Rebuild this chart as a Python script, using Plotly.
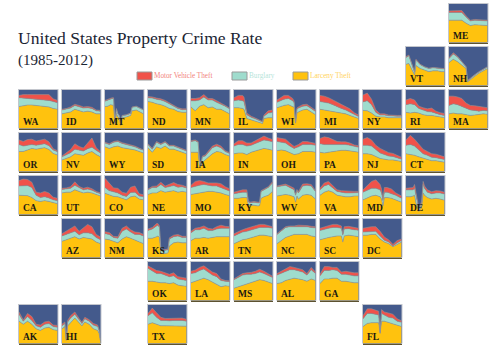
import plotly.graph_objects as go

YEARS = [1985, 1988, 1991, 1994, 1997, 2000, 2003, 2006, 2009, 2012]

CUSTOM_YEARS = {
    "MT": [1985, 1987, 1989, 1990, 1991, 1992, 1993, 1994, 1995, 1996, 1997, 2000, 2003, 2004, 2007, 2012],
    "KS": [1985, 1988, 1991, 1992, 1993, 1994, 1996, 1998, 1999, 2000, 2003, 2006, 2009, 2012],
    "IA": [1985, 1988, 1990, 1991, 1992, 1993, 1995, 1997, 2000, 2003, 2006, 2009, 2012],
    "WI": [1985, 1988, 1990, 1993, 1996, 1997, 1998, 1999, 2000, 2003, 2006, 2009, 2012],
    "IL": [1985, 1988, 1991, 1992, 1994, 1997, 2000, 2003, 2005, 2006, 2009, 2012],
    "VT": [1985, 1987, 1989, 1991, 1992, 1995, 1998, 2001, 2004, 2007, 2010, 2012],
    "NH": [1985, 1988, 1991, 1994, 1997, 1998, 2000, 2003, 2006, 2009, 2012],
    "SC": [1985, 1988, 1991, 1994, 1997, 2000, 2001, 2002, 2005, 2009, 2012],
    "HI": [1985, 1987, 1988, 1989, 1991, 1994, 1997, 1999, 2001, 2004, 2007, 2010, 2011, 2012],
    "FL": [1985, 1988, 1991, 1994, 1996, 1997, 1998, 2000, 2003, 2006, 2009, 2012],
    "DE": [1985, 1988, 1990, 1991, 1992, 1994, 1996, 1997, 1998, 2000, 2003, 2006, 2009, 2012],
    "MD": [1985, 1988, 1991, 1994, 1997, 1998, 1999, 2000, 2002, 2005, 2008, 2012],
    "WV": [1985, 1988, 1991, 1994, 1997, 1998, 1999, 2000, 2003, 2006, 2009, 2012],
    "KY": [1985, 1988, 1991, 1994, 1995, 1996, 1999, 2002, 2003, 2004, 2006, 2009, 2012],
}

LARCENY = {
    "ME": [58, 58, 58, 58, 50, 44, 46, 45, 44, 44],
    "VT": [55, 57, 42, 28, 52, 44, 40, 36, 38, 38, 36, 36],
    "NH": [60, 68, 62, 52, 44, 9, 16, 24, 32, 38, 44],
    "WA": [57, 59, 61, 61, 60, 58, 58, 56, 52, 50],
    "ID": [38, 40, 43, 50, 47, 43, 45, 43, 38, 38],
    "MT": [57, 58, 62, 60, 60, 12, 40, 30, 28, 8, 28, 30, 34, 46, 48, 38],
    "ND": [70, 68, 64, 62, 58, 52, 50, 44, 42, 42],
    "MN": [56, 46, 58, 62, 54, 56, 50, 50, 44, 38],
    "IL": [54, 54, 52, 50, 26, 22, 19, 15, 13, 26, 28, 28],
    "WI": [54, 58, 60, 62, 58, 55, 14, 40, 43, 48, 50, 44, 36],
    "MI": [50, 48, 46, 44, 42, 40, 38, 34, 30, 26],
    "NY": [47, 46, 40, 32, 30, 30, 28, 28, 28, 28],
    "RI": [42, 40, 42, 40, 36, 34, 34, 32, 30, 28],
    "MA": [38, 40, 38, 38, 36, 34, 35, 36, 38, 37],
    "OR": [52, 52, 56, 60, 58, 60, 62, 57, 47, 43],
    "NV": [30, 34, 38, 46, 44, 42, 48, 52, 44, 38],
    "WY": [64, 60, 64, 66, 62, 60, 58, 56, 52, 48],
    "SD": [62, 50, 64, 60, 66, 58, 58, 54, 50, 46],
    "IA": [50, 50, 50, 14, 14, 24, 30, 38, 46, 52, 50, 44, 40],
    "IN": [46, 48, 48, 44, 50, 54, 58, 60, 58, 55],
    "OH": [54, 56, 54, 50, 44, 46, 52, 52, 52, 50],
    "PA": [50, 48, 50, 52, 54, 55, 55, 54, 52, 50],
    "NJ": [46, 46, 44, 38, 34, 32, 30, 30, 28, 26],
    "CT": [46, 44, 42, 38, 34, 32, 28, 28, 26, 24],
    "CA": [50, 50, 49, 44, 36, 34, 36, 34, 30, 28],
    "UT": [56, 58, 58, 64, 60, 56, 58, 56, 52, 48],
    "CO": [55, 50, 47, 46, 42, 38, 46, 48, 40, 38],
    "NE": [52, 56, 56, 62, 58, 60, 62, 58, 60, 58],
    "MO": [52, 54, 56, 58, 60, 60, 58, 56, 52, 49],
    "KY": [42, 42, 44, 44, 26, 24, 24, 22, 24, 42, 46, 50, 60],
    "WV": [48, 50, 52, 50, 46, 32, 48, 40, 50, 52, 50, 40],
    "VA": [50, 58, 62, 58, 50, 48, 46, 46, 48, 48],
    "MD": [38, 44, 48, 50, 46, 40, 22, 44, 44, 42, 38, 32],
    "DE": [46, 46, 48, 50, 30, 8, 20, 56, 50, 44, 40, 42, 40, 37],
    "AZ": [42, 46, 50, 54, 48, 52, 50, 48, 40, 36],
    "NM": [48, 46, 42, 38, 48, 54, 50, 46, 42, 36],
    "KS": [50, 50, 54, 56, 52, 12, 10, 12, 12, 30, 38, 40, 38, 38],
    "AR": [44, 50, 50, 52, 50, 52, 54, 54, 54, 54],
    "TN": [36, 42, 46, 48, 52, 56, 58, 58, 56, 54],
    "NC": [36, 44, 52, 56, 60, 60, 60, 60, 56, 54],
    "SC": [46, 50, 52, 54, 56, 56, 40, 56, 58, 56, 54],
    "DC": [58, 58, 60, 60, 48, 40, 36, 28, 34, 40],
    "OK": [50, 50, 48, 46, 46, 44, 46, 40, 38, 37],
    "LA": [46, 50, 54, 58, 54, 48, 44, 36, 38, 37],
    "MS": [32, 36, 40, 44, 46, 50, 54, 52, 48, 44],
    "AL": [44, 46, 52, 56, 58, 56, 54, 50, 56, 52],
    "GA": [44, 56, 56, 58, 58, 50, 50, 48, 46, 46],
    "AK": [58, 50, 58, 50, 38, 34, 40, 42, 36, 34],
    "HI": [38, 44, 8, 46, 54, 66, 54, 46, 56, 50, 38, 34, 26, 6],
    "TX": [50, 54, 50, 46, 46, 46, 46, 46, 46, 45],
    "FL": [44, 52, 54, 54, 54, 26, 58, 58, 54, 52, 46, 44],
}

BURGLARY = {
    "ME": [20, 20, 20, 20, 16, 12, 12, 12, 12, 12],
    "VT": [18, 20, 14, 6, 14, 10, 8, 8, 8, 7, 7, 7],
    "NH": [10, 14, 12, 8, 4, 3, 3, 3, 3, 3, 4],
    "WA": [23, 20, 18, 17, 17, 17, 17, 17, 18, 17],
    "ID": [10, 10, 10, 10, 10, 10, 9, 9, 8, 7],
    "MT": [14, 16, 16, 18, 18, 2, 10, 8, 5, 2, 5, 5, 5, 9, 9, 10],
    "ND": [10, 11, 12, 12, 12, 12, 8, 8, 7, 7],
    "MN": [16, 26, 16, 20, 20, 18, 18, 14, 14, 13],
    "IL": [18, 20, 20, 20, 10, 7, 6, 5, 4, 6, 12, 14],
    "WI": [14, 16, 16, 16, 14, 12, 2, 10, 10, 10, 9, 8, 8],
    "MI": [20, 20, 20, 18, 14, 12, 10, 9, 6, 5],
    "NY": [22, 26, 22, 10, 5, 5, 5, 4, 4, 4],
    "RI": [20, 24, 20, 12, 12, 10, 9, 7, 6, 6],
    "MA": [22, 24, 24, 20, 16, 14, 12, 9, 9, 9],
    "OR": [18, 14, 12, 10, 10, 10, 10, 10, 9, 8],
    "NV": [8, 10, 11, 12, 11, 11, 11, 11, 11, 10],
    "WY": [10, 10, 12, 12, 11, 10, 9, 8, 7, 7],
    "SD": [8, 8, 12, 10, 10, 8, 8, 7, 7, 7],
    "IA": [28, 30, 26, 14, 6, 14, 10, 12, 16, 14, 12, 8, 7],
    "IN": [20, 22, 22, 22, 18, 18, 20, 22, 22, 22],
    "OH": [24, 20, 20, 16, 16, 18, 18, 18, 18, 18],
    "PA": [22, 22, 20, 18, 16, 15, 15, 14, 13, 13],
    "NJ": [22, 22, 22, 18, 14, 12, 10, 9, 7, 6],
    "CT": [22, 26, 24, 18, 12, 10, 9, 8, 8, 7],
    "CA": [24, 24, 26, 26, 14, 10, 10, 9, 8, 8],
    "UT": [9, 8, 10, 12, 9, 8, 8, 7, 6, 6],
    "CO": [15, 12, 12, 10, 8, 9, 11, 10, 8, 8],
    "NE": [12, 14, 14, 16, 12, 12, 13, 13, 12, 11],
    "MO": [18, 20, 20, 20, 16, 14, 16, 14, 14, 12],
    "KY": [12, 14, 14, 14, 8, 6, 8, 8, 8, 18, 18, 20, 22],
    "WV": [24, 24, 24, 20, 18, 18, 14, 16, 24, 24, 24, 20],
    "VA": [14, 16, 16, 12, 10, 10, 10, 10, 9, 9],
    "MD": [20, 18, 20, 18, 18, 16, 14, 14, 14, 12, 12, 10],
    "DE": [18, 18, 16, 18, 18, 6, 10, 22, 18, 14, 14, 14, 16, 16],
    "AZ": [14, 14, 12, 14, 11, 12, 14, 14, 12, 10],
    "NM": [14, 14, 10, 12, 20, 20, 16, 14, 18, 20],
    "KS": [20, 24, 28, 28, 26, 8, 8, 8, 8, 18, 16, 16, 14, 14],
    "AR": [20, 22, 22, 24, 20, 18, 20, 22, 22, 22],
    "TN": [20, 20, 20, 20, 20, 18, 20, 20, 22, 22],
    "NC": [24, 26, 26, 24, 20, 20, 20, 20, 22, 23],
    "SC": [24, 24, 24, 24, 22, 20, 18, 18, 17, 16, 17],
    "DC": [8, 9, 8, 8, 8, 5, 4, 2, 4, 4],
    "OK": [34, 28, 22, 24, 20, 18, 18, 16, 16, 15],
    "LA": [24, 22, 24, 24, 20, 18, 18, 16, 12, 12],
    "MS": [22, 24, 26, 24, 22, 20, 20, 18, 18, 16],
    "AL": [22, 24, 24, 24, 22, 20, 20, 16, 24, 18],
    "GA": [20, 22, 22, 22, 20, 18, 18, 18, 18, 18],
    "AK": [18, 8, 12, 10, 8, 8, 10, 10, 8, 8],
    "HI": [8, 8, 2, 10, 12, 10, 8, 6, 8, 8, 10, 10, 8, 2],
    "TX": [22, 26, 18, 14, 14, 13, 14, 14, 14, 13],
    "FL": [20, 26, 24, 22, 20, 2, 20, 16, 14, 14, 12, 11],
}

MOTOR_THEFT = {
    "ME": [4, 4, 4, 5, 3, 2, 2, 2, 2, 2],
    "VT": [2, 2, 2, 1, 2, 1, 1, 1, 1, 1, 1, 1],
    "NH": [2, 3, 2, 1, 1, 1, 1, 1, 1, 1, 1],
    "WA": [6, 9, 9, 10, 12, 13, 14, 15, 7, 6],
    "ID": [2, 2, 3, 3, 3, 3, 3, 3, 2, 2],
    "MT": [2, 2, 2, 2, 2, 1, 2, 1, 1, 1, 1, 1, 1, 1, 1, 1],
    "ND": [3, 3, 3, 3, 3, 3, 2, 2, 2, 2],
    "MN": [6, 6, 6, 6, 4, 4, 4, 3, 2, 2],
    "IL": [8, 12, 14, 12, 4, 3, 2, 2, 1, 3, 6, 6],
    "WI": [6, 8, 10, 8, 6, 4, 1, 3, 3, 4, 4, 3, 3],
    "MI": [16, 16, 14, 12, 12, 12, 10, 8, 5, 4],
    "NY": [18, 20, 14, 6, 3, 3, 2, 2, 2, 2],
    "RI": [12, 14, 12, 6, 6, 7, 10, 6, 5, 5],
    "MA": [24, 20, 20, 20, 14, 12, 12, 12, 8, 8],
    "OR": [12, 12, 15, 14, 11, 12, 12, 10, 3, 3],
    "NV": [2, 4, 8, 14, 10, 8, 14, 24, 7, 3],
    "WY": [2, 2, 2, 2, 2, 2, 2, 2, 2, 1],
    "SD": [2, 2, 2, 2, 2, 2, 2, 2, 2, 2],
    "IA": [2, 2, 2, 1, 1, 2, 3, 3, 4, 5, 4, 2, 2],
    "IN": [6, 10, 10, 8, 6, 8, 10, 10, 7, 6],
    "OH": [10, 10, 10, 8, 5, 6, 8, 8, 5, 5],
    "PA": [14, 20, 18, 12, 8, 7, 7, 6, 4, 4],
    "NJ": [16, 20, 16, 12, 12, 10, 9, 8, 6, 5],
    "CT": [14, 24, 18, 16, 12, 10, 9, 9, 7, 7],
    "CA": [14, 18, 16, 14, 8, 12, 14, 13, 7, 6],
    "UT": [3, 3, 4, 9, 4, 4, 5, 4, 2, 2],
    "CO": [24, 18, 10, 12, 8, 8, 14, 16, 6, 5],
    "NE": [2, 3, 4, 6, 4, 6, 8, 7, 4, 3],
    "MO": [6, 12, 12, 8, 6, 8, 8, 10, 6, 6],
    "KY": [4, 5, 6, 6, 3, 2, 2, 2, 2, 2, 2, 2, 3],
    "WV": [2, 2, 3, 4, 4, 2, 3, 3, 5, 4, 4, 2],
    "VA": [4, 8, 8, 6, 4, 4, 5, 4, 3, 3],
    "MD": [6, 12, 18, 22, 14, 10, 4, 12, 12, 12, 6, 6],
    "DE": [4, 6, 6, 10, 6, 2, 4, 8, 6, 6, 5, 6, 5, 5],
    "AZ": [6, 8, 12, 14, 9, 14, 22, 18, 8, 7],
    "NM": [5, 5, 3, 4, 8, 8, 6, 6, 5, 4],
    "KS": [4, 4, 6, 4, 4, 2, 2, 2, 2, 3, 4, 4, 3, 3],
    "AR": [4, 4, 6, 6, 6, 4, 6, 8, 5, 4],
    "TN": [6, 6, 6, 8, 8, 8, 8, 8, 4, 4],
    "NC": [2, 2, 2, 2, 2, 4, 4, 3, 3, 3],
    "SC": [6, 6, 8, 8, 8, 6, 4, 6, 6, 5, 5],
    "DC": [10, 12, 12, 12, 12, 8, 6, 4, 6, 4],
    "OK": [6, 6, 8, 6, 6, 6, 8, 6, 6, 6],
    "LA": [6, 7, 8, 8, 8, 8, 8, 4, 2, 2],
    "MS": [2, 3, 4, 4, 5, 6, 7, 6, 4, 3],
    "AL": [4, 6, 8, 8, 6, 6, 6, 4, 6, 4],
    "GA": [4, 10, 10, 6, 8, 6, 8, 8, 8, 8],
    "AK": [6, 3, 8, 10, 4, 6, 6, 6, 4, 5],
    "HI": [4, 4, 1, 4, 6, 6, 3, 3, 4, 4, 4, 4, 2, 1],
    "TX": [6, 12, 12, 8, 5, 6, 6, 6, 6, 5],
    "FL": [8, 12, 12, 10, 10, 1, 10, 8, 10, 10, 6, 4],
}

TITLE = "United States Property Crime Rate"
SUBTITLE = "(1985-2012)"
LEGEND_NAMES = ["Motor Vehicle Theft", "Burglary", "Larceny Theft"]

# Layout of the tile map: rows of states, "." marks an empty column.
GRID = [
    ". . . . . . . . . . ME",
    ". . . . . . . . . VT NH",
    "WA ID MT ND MN IL WI MI NY RI MA",
    "OR NV WY SD IA IN OH PA NJ CT .",
    "CA UT CO NE MO KY WV VA MD DE .",
    ". AZ NM KS AR TN NC SC DC . .",
    ". . . OK LA MS AL GA . . .",
    "AK HI . TX . . . . FL . .",
]

W, H = 500, 355
X0, Y0, STEP, SIZE = 19, 4, 43, 38.5
C_BG, C_LAR, C_BUR, C_MVT = "#445a8c", "#ffc20e", "#9fdccd", "#f0524a"
C_EDGE = "#939393"
SERIF = "Liberation Serif"


def fx(x):
    return x / W


def fy(y):
    return 1 - y / H


fig = go.Figure()
shapes, annotations, axes = [], [], {}
n = 0
for r, row in enumerate(GRID):
    for c, st in enumerate(row.split()):
        if st == ".":
            continue
        n += 1
        left, top = X0 + c * STEP, Y0 + r * STEP
        xname, yname = f"x{n}", f"y{n}"
        years = CUSTOM_YEARS.get(st, YEARS)
        for vals, col, nm in ((LARCENY[st], C_LAR, "Larceny Theft"),
                              (BURGLARY[st], C_BUR, "Burglary"),
                              (MOTOR_THEFT[st], C_MVT, "Motor Vehicle Theft")):
            fig.add_trace(go.Scatter(
                x=years, y=vals, xaxis=xname, yaxis=yname, stackgroup=st,
                mode="lines", line=dict(color=C_EDGE, width=0.6), fillcolor=col,
                name=nm, showlegend=False, hoverinfo="skip"))
        axes[f"xaxis{n}"] = dict(
            domain=[fx(left), fx(left + SIZE)], range=[1985, 2012], anchor=yname,
            showgrid=False, zeroline=False, showticklabels=False, ticks="",
            showline=True, linecolor="#5d5230", linewidth=1.2)
        axes[f"yaxis{n}"] = dict(
            domain=[fy(top + SIZE), fy(top)], range=[0, 100], anchor=xname,
            showgrid=False, zeroline=False, showticklabels=False, ticks="",
            showline=False)
        shapes.append(dict(
            type="rect", xref="paper", yref="paper", layer="below",
            x0=fx(left - 1), x1=fx(left + SIZE + 1), y0=fy(top + SIZE), y1=fy(top - 1),
            fillcolor="#c3c6cd", line=dict(width=0)))
        shapes.append(dict(
            type="rect", xref="paper", yref="paper", layer="below",
            x0=fx(left), x1=fx(left + SIZE), y0=fy(top + SIZE), y1=fy(top),
            fillcolor=C_BG, line=dict(width=0)))
        annotations.append(dict(
            text=st, x=fx(left + 1.5), y=fy(top + SIZE - 6.5), xref="paper", yref="paper",
            xanchor="left", yanchor="middle", showarrow=False,
            font=dict(family=SERIF, size=9.5, color="#1c1a12", weight="bold")))

annotations.append(dict(
    text=TITLE, x=fx(15.5), y=fy(38), xref="paper", yref="paper", xanchor="left",
    yanchor="middle", showarrow=False, font=dict(family=SERIF, size=17.6, color="#1a2433")))
annotations.append(dict(
    text=SUBTITLE, x=fx(15.5), y=fy(60), xref="paper", yref="paper", xanchor="left",
    yanchor="middle", showarrow=False, font=dict(family=SERIF, size=15, color="#1a2433")))

for name, col, x_sw, tcol in zip(LEGEND_NAMES, (C_MVT, C_BUR, C_LAR), (137, 232, 293),
                                 ("#f2837d", "#b6e5da", "#ffd35c")):
    shapes.append(dict(
        type="rect", xref="paper", yref="paper", x0=fx(x_sw), x1=fx(x_sw + 15),
        y0=fy(80), y1=fy(72), fillcolor=col, line=dict(color="#9a9a9a", width=1)))
    annotations.append(dict(
        text=name, x=fx(x_sw + 15), y=fy(76), xref="paper", yref="paper", xanchor="left",
        yanchor="middle", showarrow=False, font=dict(family=SERIF, size=7.2, color=tcol)))

fig.update_layout(
    width=W, height=H, margin=dict(l=0, r=0, t=0, b=0), autosize=False,
    paper_bgcolor="white", plot_bgcolor=C_BG, showlegend=False,
    shapes=shapes, annotations=annotations, **axes)
fig.write_html("out.html", config={"displayModeBar": False},
               post_script="document.body.style.margin='0';")
